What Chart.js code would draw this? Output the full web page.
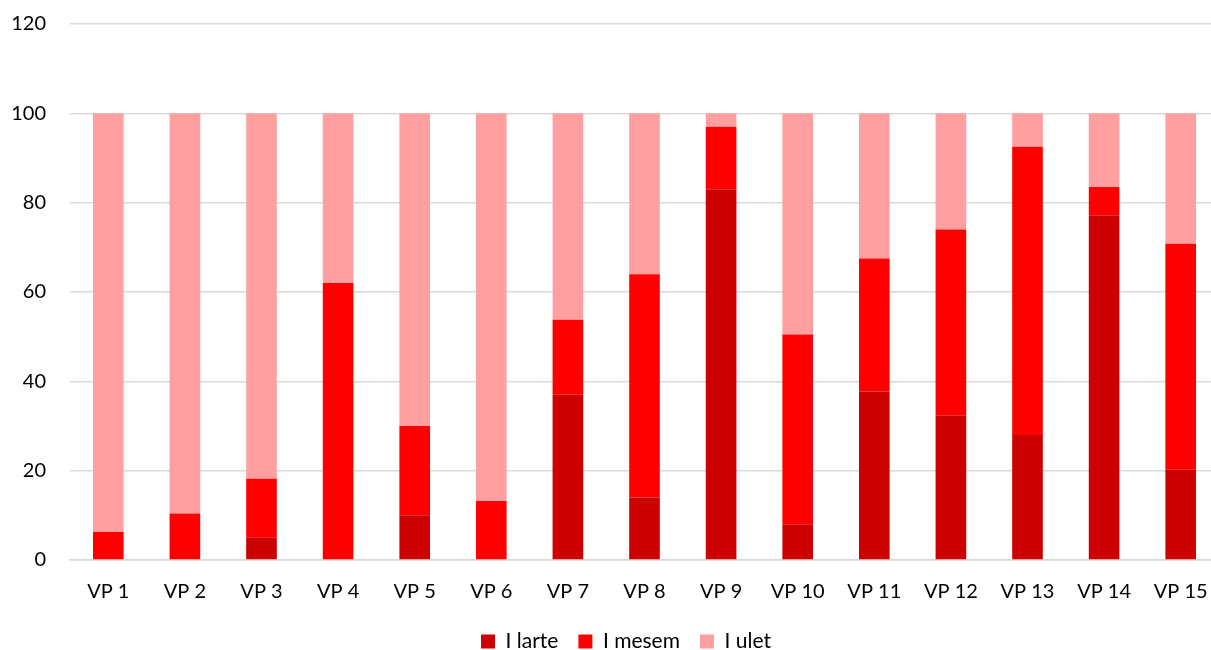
<!DOCTYPE html>
<html>
<head>
<meta charset="utf-8">
<script src="https://cdn.jsdelivr.net/npm/chart.js@4"></script>
<style>
html,body{margin:0;padding:0;background:#fff;overflow:hidden;}
#wrap{width:1211px;height:650px;overflow:hidden;position:relative;}
canvas{display:block;position:absolute;left:0;top:-12px;}
</style>
</head>
<body>
<div id="wrap"><canvas id="c" width="1252" height="674"></canvas></div>
<script>
const categories = ["VP 1","VP 2","VP 3","VP 4","VP 5","VP 6","VP 7","VP 8","VP 9","VP 10","VP 11","VP 12","VP 13","VP 14","VP 15"];
const larte = [0, 0, 5, 0, 10, 0, 37, 14, 83, 8, 37.7, 32.3, 28, 77.2, 20.2];
const mesem = [6.3, 10.4, 13.2, 62, 20, 13.2, 16.8, 50, 14, 42.5, 29.8, 41.7, 64.5, 6.3, 50.6];
const ulet  = [93.7, 89.6, 81.8, 38, 70, 86.8, 46.2, 36, 3, 49.5, 32.5, 26, 7.5, 16.5, 29.2];
const seriesNames = ["I larte", "I mesem", "I ulet"];
const yTicks = [0, 20, 40, 60, 80, 100, 120];

const FONT = "Lato, 'Open Sans', sans-serif";
Chart.defaults.font.family = FONT;
Chart.defaults.color = "#000";

new Chart(document.getElementById('c'), {
  type: 'bar',
  data: {
    labels: categories,
    datasets: [
      {label: seriesNames[0], data: larte, backgroundColor: '#CC0000'},
      {label: seriesNames[1], data: mesem, backgroundColor: '#FF0000'},
      {label: seriesNames[2], data: ulet,  backgroundColor: '#FF9F9F'}
    ]
  },
  options: {
    responsive: false,
    animation: false,
    layout: {padding: {left: 0, right: 0, top: 4, bottom: 0}},
    datasets: {bar: {categoryPercentage: 1, barPercentage: 0.4, borderWidth: 0}},
    plugins: {
      tooltip: {enabled: false},
      legend: {
        position: 'bottom',
        labels: {font: {size: 21, family: FONT}, boxWidth: 14, boxHeight: 14, padding: 20, color: '#000'}
      }
    },
    scales: {
      x: {
        stacked: true,
        grid: {display: false, drawTicks: false},
        border: {display: true, color: '#D9D9D9', width: 1.5},
        ticks: {font: {size: 20, family: FONT}, padding: 20, color: '#000'},
        afterFit: s => { s.height = 51; }
      },
      y: {
        stacked: true,
        min: 0, max: 120,
        afterBuildTicks: s => { s.ticks = yTicks.map(v => ({value: v})); },
        grid: {color: '#D9D9D9', lineWidth: 1.5, drawTicks: false},
        border: {display: false},
        ticks: {font: {size: 20, family: FONT}, padding: 24, color: '#000'},
        afterFit: s => { s.width = 70; }
      },
      yRight: {
        type: 'linear',
        position: 'right',
        display: true,
        grid: {display: false, drawTicks: false},
        border: {display: false},
        ticks: {display: false},
        afterFit: s => { s.width = 33; }
      }
    }
  }
});
</script>
</body>
</html>
